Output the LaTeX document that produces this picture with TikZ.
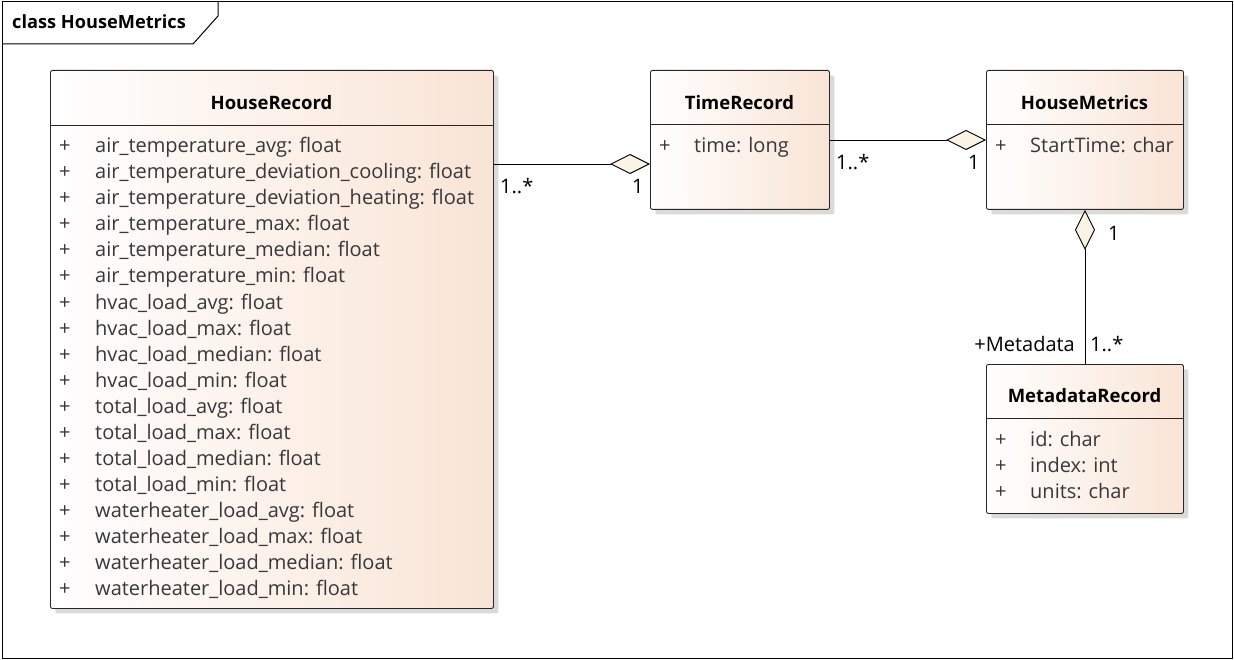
\documentclass[tikz,border=0pt]{standalone}
\usepackage{fontspec}
\setmainfont{Open Sans}
\usetikzlibrary{arrows.meta,shadows}
\definecolor{boxpeach}{RGB}{249,228,213}
\definecolor{dfill}{RGB}{251,242,230}
\definecolor{attrc}{RGB}{55,55,60}
\definecolor{shadowc}{RGB}{218,218,218}
\newcommand{\attrfont}{\fontsize{20}{24}\selectfont}
\newcommand{\titlefont}{\fontsize{18.5}{22}\selectfont\bfseries}
\begin{document}
\begin{tikzpicture}[x=1pt,y=-1pt,
  classbox/.style={draw=black!85, line width=0.9pt, rounded corners=2pt,
    left color=white, right color=boxpeach, anchor=north west, inner sep=0,
    drop shadow={shadow xshift=5pt, shadow yshift=-5pt, fill=shadowc, opacity=1}},
  ctitle/.style={inner sep=0, font=\titlefont, text=black},
  attr/.style={inner sep=0, anchor=base west, font=\attrfont, text=attrc},
  lbl/.style={inner sep=0, anchor=base west, font=\attrfont, text=black},
  sep/.style={draw=black!85, line width=0.9pt},
  assoc/.style={draw=black, line width=0.9pt,
    -{Diamond[length=40pt, width=20pt, fill=dfill, line width=0.9pt]}}
]
\useasboundingbox (0,0) rectangle (1234,660);
% frame
\draw[line width=1pt] (2,2) rectangle (1232,658);
\draw[line width=1pt] (2,44) -- (193,44) -- (218,16) -- (218,2);
\node[inner sep=0, anchor=base west, font=\fontsize{18.2}{22}\selectfont\bfseries] (frametitle) at (12,28.3) {class HouseMetrics};

% HouseRecord
\node[classbox, minimum width=443pt, minimum height=538pt] (hr) at (50,70) {};
\draw[sep] ([yshift=-55pt]hr.north west) -- ([yshift=-55pt]hr.north east);
\node[ctitle, anchor=base] (hrt) at (271.5,109.3) {HouseRecord};
\foreach \t [count=\i from 0] in {
air\_temperature\_avg: float,
air\_temperature\_deviation\_cooling: float,
air\_temperature\_deviation\_heating: float,
air\_temperature\_max: float,
air\_temperature\_median: float,
air\_temperature\_min: float,
hvac\_load\_avg: float,
hvac\_load\_max: float,
hvac\_load\_median: float,
hvac\_load\_min: float,
total\_load\_avg: float,
total\_load\_max: float,
total\_load\_median: float,
total\_load\_min: float,
waterheater\_load\_avg: float,
waterheater\_load\_max: float,
waterheater\_load\_median: float,
waterheater\_load\_min: float}{
  \node[attr] (hrp\i) at (59,{153+26*\i}) {+};
  \node[attr] (hra\i) at (95,{153+26*\i}) {\t};
}

% TimeRecord
\node[classbox, minimum width=179pt, minimum height=139pt] (tr) at (650,70) {};
\draw[sep] ([yshift=-54pt]tr.north west) -- ([yshift=-54pt]tr.north east);
\node[ctitle, anchor=base] (trt) at (739.5,109.3) {TimeRecord};
\node[attr] (trp0) at (659,153) {+};
\node[attr] (tra0) at (694,153) {time: long};

% HouseMetrics
\node[classbox, minimum width=197pt, minimum height=139pt] (hm) at (986,70) {};
\draw[sep] ([yshift=-54pt]hm.north west) -- ([yshift=-54pt]hm.north east);
\node[ctitle, anchor=base] (hmt) at (1084.5,109.3) {HouseMetrics};
\node[attr] (hmp0) at (995,153) {+};
\node[attr] (hma0) at (1030,153) {StartTime: char};

% MetadataRecord
\node[classbox, minimum width=197pt, minimum height=149pt] (mr) at (986,364) {};
\draw[sep] ([yshift=-54pt]mr.north west) -- ([yshift=-54pt]mr.north east);
\node[ctitle, anchor=base] (mrt) at (1084.5,402.7) {MetadataRecord};
\node[attr] (mrp0) at (995,446.7) {+};
\node[attr] (mra0) at (1030,446.7) {id: char};
\node[attr] (mrp1) at (995,472.7) {+};
\node[attr] (mra1) at (1030,472.7) {index: int};
\node[attr] (mrp2) at (995,498.7) {+};
\node[attr] (mra2) at (1030,498.7) {units: char};

% connectors
\draw[assoc] ([yshift=-94pt]hr.north east) -- ([yshift=-94pt]tr.north west);
\draw[assoc] ([yshift=-70pt]tr.north east) -- ([yshift=-70pt]hm.north west);
\draw[assoc] (mr.north) -- (hm.south);

% multiplicities
\node[lbl] (l1) at (500,193.3) {1..*};
\node[lbl] (l2) at (632,193.3) {1};
\node[lbl] (l3) at (836,170) {1..*};
\node[lbl] (l4) at (968,170) {1};
\node[lbl] (l5) at (1108,241) {1};
\node[lbl, anchor=base east] (l6) at (1075,351) {+Metadata};
\node[lbl] (l7) at (1090,351) {1..*};
\end{tikzpicture}
\end{document}
